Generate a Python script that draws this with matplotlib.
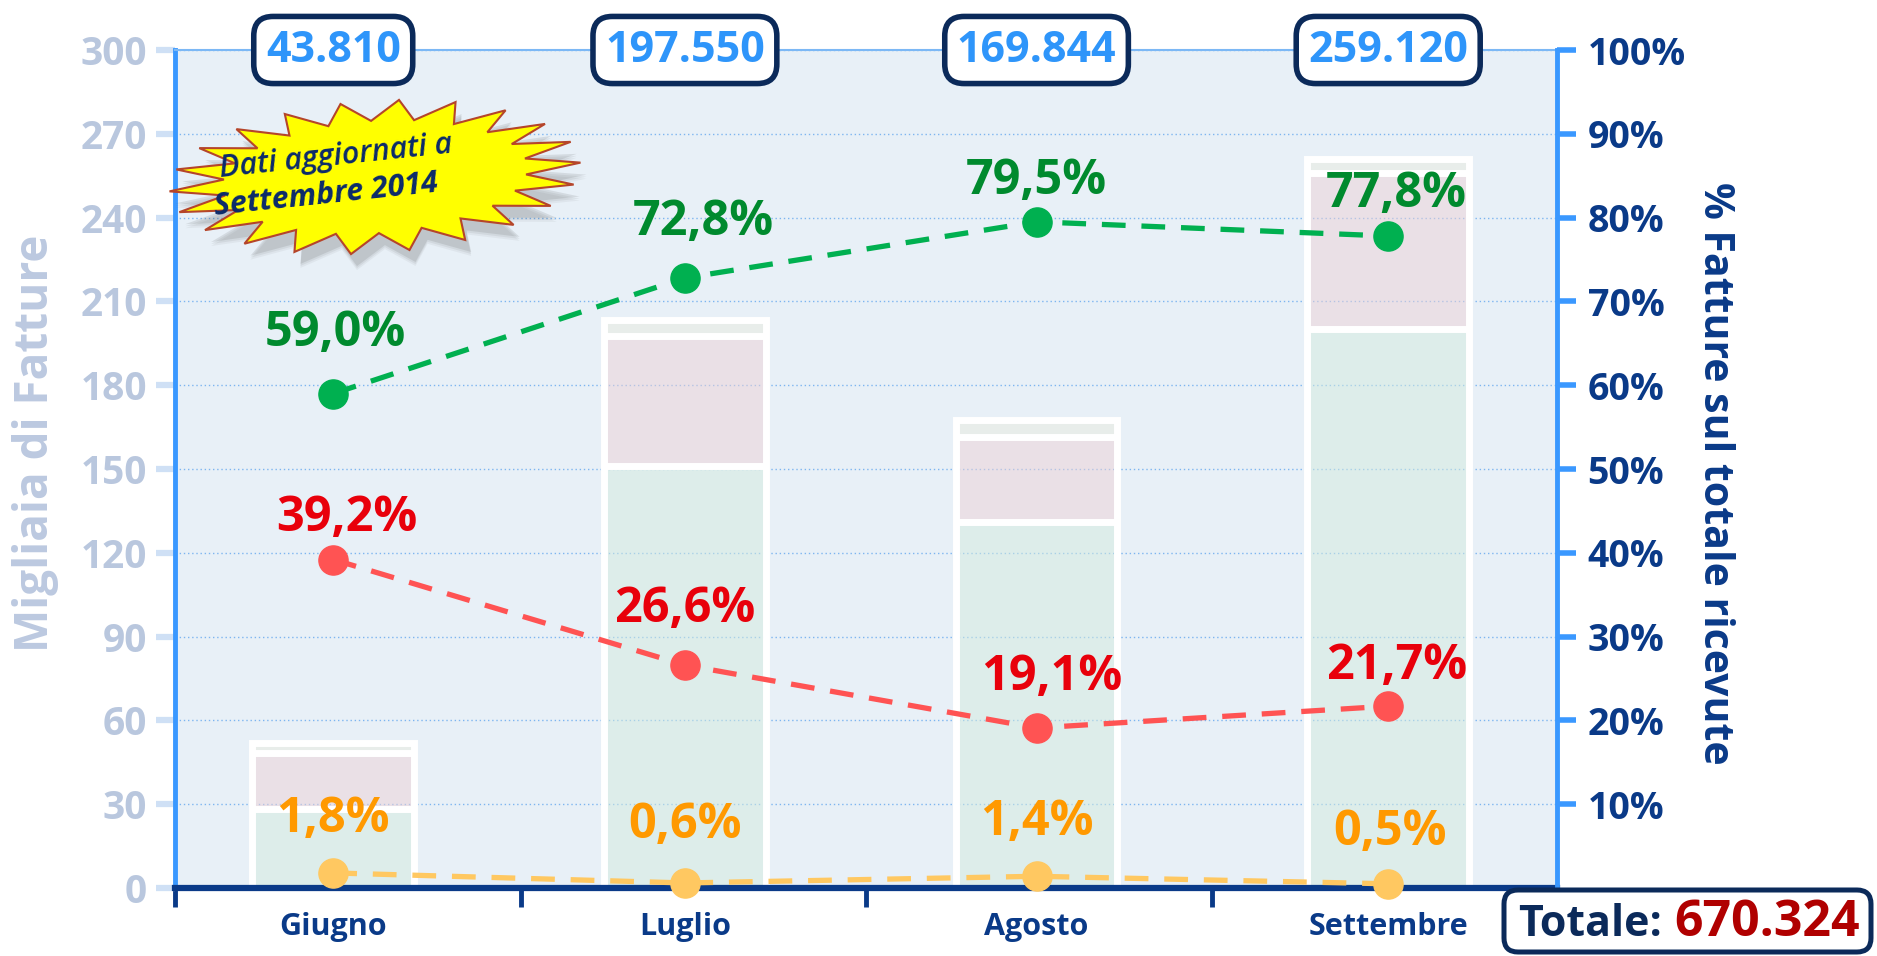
import matplotlib
matplotlib.use("Agg")
import matplotlib.pyplot as plt
import numpy as np
from matplotlib.patches import Polygon, FancyBboxPatch
from matplotlib.transforms import IdentityTransform

plt.rcParams['font.family'] = ['Open Sans', 'DejaVu Sans']
plt.rcParams['font.weight'] = 'bold'

# ------------------------- dati -------------------------
mesi = ['Giugno', 'Luglio', 'Agosto', 'Settembre']
totali = [43810, 197550, 169844, 259120]

# segmenti delle barre (migliaia di fatture)
barra_verde = [28.3, 151.0, 131.0, 200.0]
barra_rosa = [20.1, 46.5, 30.5, 56.0]
barra_grigia = [3.5, 6.0, 6.0, 5.0]

# percentuali sul totale ricevute
perc_verde = [59.0, 72.8, 79.5, 77.8]
perc_rosso = [39.2, 26.6, 19.1, 21.7]
perc_arancio = [1.8, 0.6, 1.4, 0.5]

# ------------------------- stile -------------------------
W, H = 1877, 956
navy = '#0A3A88'
navy_box = '#0B2A5A'
blu = '#3A98FF'
grigio_asse = '#B9C7DE'

fig = plt.figure(figsize=(W / 100, H / 100), dpi=100)
ax = fig.add_axes([175 / W, 68 / H, (1557 - 175) / W, (888 - 50) / H])
ax.set_facecolor('#E8F0F7')

x = np.arange(len(mesi))
larg = 0.46
base = np.zeros(len(mesi))
colori = [(0.83, 0.92, 0.87, 0.5), (0.93, 0.82, 0.84, 0.5), (0.91, 0.92, 0.87, 0.5)]
for vals, col in zip([barra_verde, barra_rosa, barra_grigia], colori):
    ax.bar(x, vals, larg, bottom=base, color=col, edgecolor='white', linewidth=5, zorder=2)
    base += np.array(vals)

xa, xb = -0.45, 3.48
ax.set_xlim(xa, xb)
ax.set_ylim(0, 300)
ax.set_yticks(np.arange(0, 301, 30))
ax.set_axisbelow(True)
ax.yaxis.grid(True, color='#7DB5F0', linestyle=(0, (1, 2)), linewidth=1)

ax.spines['left'].set_color(blu)
ax.spines['left'].set_linewidth(3.5)
ax.spines['top'].set_color('#7CB8F5')
ax.spines['top'].set_linewidth(1.5)
ax.spines['bottom'].set_color(navy)
ax.spines['bottom'].set_linewidth(4.5)
ax.spines['bottom'].set_zorder(6)
ax.spines['right'].set_visible(False)

ax.tick_params(axis='y', colors='#CFE0F5', labelcolor=grigio_asse, length=14, width=4.5,
               labelsize=28, pad=6)
ax.yaxis.get_major_ticks()[0].tick1line.set_color(navy)

ax.set_xticks(x, mesi)
ax.tick_params(axis='x', which='major', length=0, labelsize=22, labelcolor=navy, pad=17)
ax.set_xticks(np.linspace(xa, xb, 5), minor=True)
ax.tick_params(axis='x', which='minor', length=14, width=3.5, color=navy)

# asse destro (percentuali)
ax2 = ax.twinx()
ax2.set_ylim(0, 100)
ax2.set_yticks(np.arange(10, 101, 10))
ax2.set_yticklabels([f'{v}%' for v in range(10, 101, 10)])
for s in ['left', 'top', 'bottom']:
    ax2.spines[s].set_visible(False)
ax2.spines['right'].set_color(blu)
ax2.spines['right'].set_linewidth(3.5)
ax2.tick_params(axis='y', colors=blu, labelcolor=navy, length=14, width=4, labelsize=27, pad=8)

serie = [
    (perc_verde, '#00B050', '#008A2E', [2, 18, 0, 8], [60, 55, 40, 42]),
    (perc_rosso, '#FF5353', '#E8000B', [14, 0, 15, 8], [41, 56, 50, 40]),
    (perc_arancio, '#FFC861', '#FF9900', [0, 0, 0, 2], [53, 57, 54, 51]),
]
for vals, col, col_txt, dxs, dys in serie:
    ax2.plot(x, vals, color=col, linestyle='--', dashes=(4.5, 3), linewidth=3.8,
             marker='o', markersize=21, zorder=5, clip_on=False)
    for xi, v, dx, dy in zip(x, vals, dxs, dys):
        ax2.annotate(f'{v:.1f}'.replace('.', ',') + '%', (xi, v), xytext=(dx, dy),
                     textcoords='offset pixels', ha='center', va='center',
                     fontsize=35, color=col_txt, zorder=6, annotation_clip=False)

# totali mensili nei riquadri in alto
for xi, t in zip(x, totali):
    ax2.annotate(f'{t:,}'.replace(',', '.'), (xi, 100), ha='center', va='center',
                 fontsize=31, color='#2E95FA', annotation_clip=False, zorder=10,
                 bbox=dict(boxstyle='round,pad=0.28,rounding_size=0.45', fc='white',
                           ec=navy_box, lw=4))

# titoli degli assi
fig.text(36 / W, 1 - 443 / H, 'Migliaia di Fatture', rotation=90, ha='center', va='center',
         fontsize=33, color='#BCC9E0')
fig.text(1714 / W, 1 - 473 / H, '% Fatture sul totale ricevute', rotation=-90,
         ha='center', va='center', fontsize=29.5, color=navy)

# riquadro totale
box = FancyBboxPatch((1504, 4), 367, 62, boxstyle='round,pad=0,rounding_size=14',
                     transform=IdentityTransform(), fc='white', ec=navy_box, lw=3.6, zorder=20)
fig.add_artist(box)
t1 = fig.text(1518 / W, 1 - 936 / H, 'Totale:', ha='left', va='baseline', fontsize=31,
              color=navy_box, zorder=21)
fig.canvas.draw()
bb = t1.get_window_extent()
fig.text((bb.x1 + 12) / W, 1 - 936 / H, f'{sum(totali):,}'.replace(',', '.'), ha='left',
         va='baseline', fontsize=36, color='#B00000', zorder=21)

# stella "Dati aggiornati"
cx, cy = 375, H - 177
n = 44
ang = np.linspace(0, 2 * np.pi, n, endpoint=False)
r = np.where(np.arange(n) % 2 == 0, 1.0, 0.74)
rot = np.deg2rad(4)
px = 206 * r * np.cos(ang)
py = 76 * r * np.sin(ang)
pts = np.column_stack([cx + px * np.cos(rot) - py * np.sin(rot),
                       cy + px * np.sin(rot) + py * np.cos(rot)])
for k, a in enumerate([0.06, 0.08, 0.12]):
    ombra = Polygon(pts + [6, -16 + 2 * k], closed=True, transform=IdentityTransform(),
                    fc='#404040', ec='none', alpha=a, zorder=8)
    fig.add_artist(ombra)
fig.add_artist(Polygon(pts, closed=True, transform=IdentityTransform(), fc='#FFFF00',
                       ec='#B5452A', lw=1.5, zorder=9))
fig.text(336 / W, 1 - 157 / H, 'Dati aggiornati a', rotation=6, ha='center', va='center',
         fontsize=22, style='italic', fontweight='semibold', color='#0B2A6B', zorder=10)
fig.text(326 / W, 1 - 195 / H, 'Settembre 2014', rotation=6, ha='center', va='center',
         fontsize=22, style='italic', fontweight='bold', color='#0B2A6B', zorder=10)

fig.savefig('out.png', dpi=100)
